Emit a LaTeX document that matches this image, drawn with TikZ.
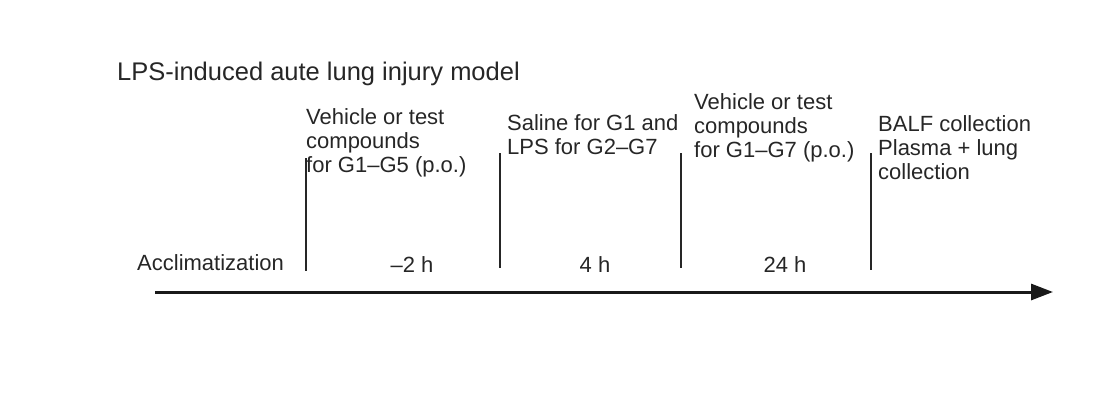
\documentclass[tikz,border=0pt]{standalone}
\usepackage{fontspec}
\setmainfont{Liberation Sans}
\usetikzlibrary{arrows.meta}
\begin{document}
\begin{tikzpicture}[x=1pt,y=-1pt,
  lbl/.style={font=\fontsize{22}{24}\selectfont,inner sep=0pt,align=left,text=black!85},
  tick/.style={line width=1.4pt,black!85}]
\useasboundingbox (0,0) rectangle (1101,402);
\node[lbl,anchor=base west,font=\fontsize{25.5}{28}\selectfont] (title) at (117,80) {LPS-induced aute lung injury model};
\coordinate (a1) at (306,158); \coordinate (b1) at (306,271);
\coordinate (a2) at (500,153); \coordinate (b2) at (500,268);
\coordinate (a3) at (681,153); \coordinate (b3) at (681,268);
\coordinate (a4) at (871,153); \coordinate (b4) at (871,270);
\foreach \i in {1,2,3,4} \draw[tick] (a\i) -- (b\i);
\coordinate (s) at (155,292); \coordinate (e) at (1053,292);
\draw[line width=3pt,black!90,-{Triangle[length=22pt,width=16pt]}] (s) -- (e);
\node[lbl,anchor=base west] (acc) at (137,270) {Acclimatization};
\node[lbl,anchor=base] (t1) at (412,272) {–2 h};
\node[lbl,anchor=base] (t2) at (595,272) {4 h};
\node[lbl,anchor=base] (t3) at (785,272) {24 h};
\node[lbl,anchor=base west] (g1) at (306,172) {Vehicle or test\\compounds\\for G1–G5 (p.o.)};
\node[lbl,anchor=base west] (g2) at (507,154) {Saline for G1 and\\LPS for G2–G7};
\node[lbl,anchor=base west] (g3) at (694,157) {Vehicle or test\\compounds\\for G1–G7 (p.o.)};
\node[lbl,anchor=base west] (g4) at (878,179) {BALF collection\\Plasma + lung\\collection};
\end{tikzpicture}
\end{document}
